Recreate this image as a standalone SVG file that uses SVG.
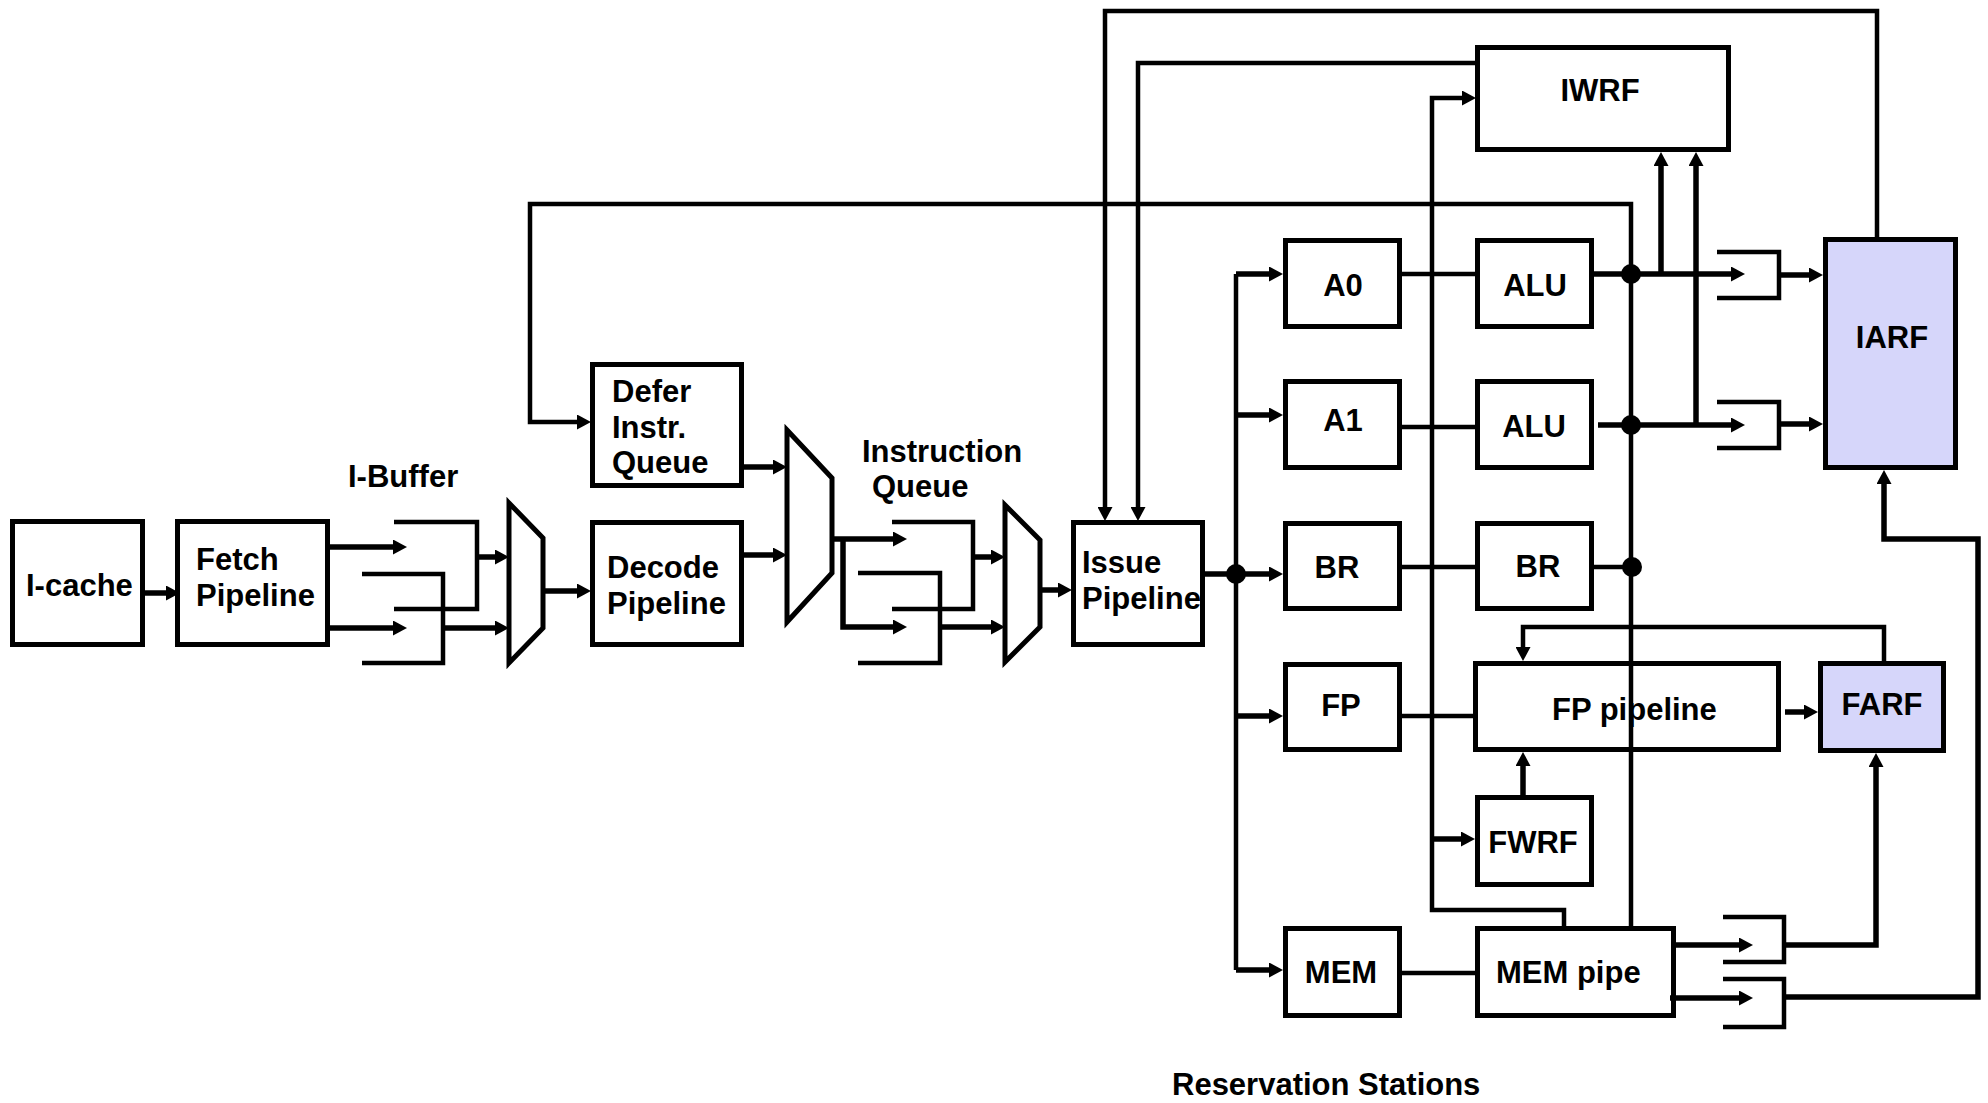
<svg xmlns="http://www.w3.org/2000/svg" width="1988" height="1103" viewBox="0 0 1988 1103">
<style>
.bx{fill:none;stroke:#000;stroke-width:5}
.rf{fill:#D6D6FA;stroke:#000;stroke-width:5}
.ln{fill:none;stroke:#000;stroke-width:4.5;stroke-linejoin:miter}
.ar{fill:none;stroke:#000;stroke-width:5.5;marker-end:url(#ah)}
.br{fill:none;stroke:#000;stroke-width:4.5}
.mx{fill:#fff;stroke:#000;stroke-width:5}
.dot{fill:#000}
text{font-family:"Liberation Sans",Arial,Helvetica,sans-serif;font-weight:bold;font-size:31px;fill:#000}
.c{text-anchor:middle}
</style>
<defs>
<marker id="ah" markerUnits="userSpaceOnUse" viewBox="0 0 14 15" markerWidth="14" markerHeight="15" refX="4" refY="7.5" orient="auto"><path d="M0,0 L14,7.5 L0,15 z" fill="#000"/></marker>
</defs>
<rect width="1988" height="1103" fill="#fff"/>
<g id="connectors">
<path class="ar" d="M145,593 H170"/>
<path class="ar" d="M330,547 H397"/>
<path class="ar" d="M330,628 H397"/>
<polyline class="br" points="394,522 477,522 477,609 394,609"/>
<polyline class="br" points="362,574 443,574 443,663 362,663"/>
<path class="ar" d="M477,557 H499"/>
<path class="ar" d="M443,628 H499"/>
<path class="ar" d="M543,591 H581"/>
<path class="ln" style="marker-end:url(#ah)" d="M1631,926 V204 H530 V422 H581"/>
<path class="ar" d="M744,467 H777"/>
<path class="ar" d="M744,555 H777"/>
<path class="ar" d="M832,539 H897"/>
<path class="ar" d="M843,539 V627 H897"/>
<polyline class="br" points="892,522 973,522 973,609 892,609"/>
<polyline class="br" points="858,573 940,573 940,663 858,663"/>
<path class="ar" d="M973,557 H995"/>
<path class="ar" d="M940,627 H995"/>
<path class="ar" d="M1040,590 H1062"/>
<path class="ln" style="marker-end:url(#ah)" d="M1877,239 V11 H1105 V511"/>
<path class="ln" style="marker-end:url(#ah)" d="M1476,63 H1138 V511"/>
<path class="ar" d="M1205,574 H1273"/>
<path class="ln" d="M1236,274 V970"/>
<path class="ar" d="M1236,274 H1273"/>
<path class="ar" d="M1236,415 H1273"/>
<path class="ar" d="M1236,716 H1273"/>
<path class="ar" d="M1236,970 H1273"/>
<path class="ln" d="M1402,274 H1475"/>
<path class="ln" d="M1402,427 H1475"/>
<path class="ln" d="M1402,567 H1475"/>
<path class="ln" d="M1402,716 H1473"/>
<path class="ln" d="M1402,973 H1475"/>
<path class="ln" d="M1594,567 H1631"/>
<path class="ar" d="M1594,274 H1735"/>
<path class="ar" d="M1598,425 H1735"/>
<path class="ar" d="M1661,274 V162"/>
<path class="ar" d="M1696,425 V162"/>
<polyline class="br" points="1717,252 1779,252 1779,298 1717,298"/>
<polyline class="br" points="1717,402 1779,402 1779,448 1717,448"/>
<path class="ar" d="M1779,275 H1813"/>
<path class="ar" d="M1779,424 H1813"/>
<path class="ln" style="marker-end:url(#ah)" d="M1564,926 V910 H1432 V98 H1466"/>
<path class="ar" d="M1432,839 H1465"/>
<path class="ar" d="M1523,795 V762"/>
<path class="ln" style="marker-end:url(#ah)" d="M1884,661 V627 H1523 V651"/>
<path class="ar" d="M1785,712 H1808"/>
<path class="ar" d="M1676,945 H1743"/>
<path class="ar" d="M1670,998 H1743"/>
<polyline class="br" points="1723,917 1784,917 1784,962 1723,962"/>
<polyline class="br" points="1723,979 1784,979 1784,1027 1723,1027"/>
<path class="ar" d="M1784,945 H1876 V763"/>
<path class="ar" d="M1784,997 H1978 V539 H1884 V480"/>
<circle class="dot" cx="1236" cy="574" r="10"/>
<circle class="dot" cx="1631" cy="274" r="10"/>
<circle class="dot" cx="1631" cy="425" r="10"/>
<circle class="dot" cx="1632" cy="567" r="10"/>
</g>
<g id="icache"><rect class="bx" x="12.5" y="521.5" width="130" height="123"/><text x="26" y="596">I-cache</text></g>
<g id="fetch"><rect class="bx" x="177.5" y="521.5" width="150" height="123"/><text x="196" y="570">Fetch</text><text x="196" y="606">Pipeline</text></g>
<g id="ibuffer"><text x="348" y="487">I-Buffer</text></g>
<g id="mux1"><polygon class="mx" points="509,503 543,538 543,628 509,663"/></g>
<g id="defer"><rect class="bx" x="592.5" y="364.5" width="149" height="121"/><text x="612" y="402">Defer</text><text x="612" y="438">Instr.</text><text x="612" y="473">Queue</text></g>
<g id="decode"><rect class="bx" x="592.5" y="522.5" width="149" height="122"/><text x="607" y="578">Decode</text><text x="607" y="614">Pipeline</text></g>
<g id="mux2"><polygon class="mx" points="787,430 832,478 832,573 787,622"/></g>
<g id="iqueue"><text x="862" y="462">Instruction</text><text x="872" y="497">Queue</text></g>
<g id="mux3"><polygon class="mx" points="1005,505 1040,540 1040,627 1005,662"/></g>
<g id="issue"><rect class="bx" x="1073.5" y="522.5" width="129" height="122"/><text x="1082" y="573">Issue</text><text x="1082" y="609">Pipeline</text></g>
<g id="a0"><rect class="bx" x="1285.5" y="240.5" width="114" height="86"/><text class="c" x="1343" y="296">A0</text></g>
<g id="alu0"><rect class="bx" x="1477.5" y="240.5" width="114" height="86"/><text class="c" x="1535" y="296">ALU</text></g>
<g id="a1"><rect class="bx" x="1285.5" y="381.5" width="114" height="86"/><text class="c" x="1343" y="431">A1</text></g>
<g id="alu1"><rect class="bx" x="1477.5" y="381.5" width="114" height="86"/><text class="c" x="1534" y="437">ALU</text></g>
<g id="br1"><rect class="bx" x="1285.5" y="523.5" width="114" height="85"/><text class="c" x="1337" y="578">BR</text></g>
<g id="br2"><rect class="bx" x="1477.5" y="523.5" width="114" height="85"/><text class="c" x="1538" y="577">BR</text></g>
<g id="fp"><rect class="bx" x="1285.5" y="664.5" width="114" height="85"/><text class="c" x="1341" y="716">FP</text></g>
<g id="fppipe"><rect class="bx" x="1475.5" y="663.5" width="303" height="86"/><text x="1552" y="720">FP pipeline</text></g>
<g id="farf"><rect class="rf" x="1820.5" y="663.5" width="123" height="87"/><text class="c" x="1882" y="715">FARF</text></g>
<g id="fwrf"><rect class="bx" x="1477.5" y="797.5" width="114" height="87"/><text class="c" x="1533" y="853">FWRF</text></g>
<g id="mem"><rect class="bx" x="1285.5" y="928.5" width="114" height="87"/><text class="c" x="1341" y="983">MEM</text></g>
<g id="mempipe"><rect class="bx" x="1477.5" y="928.5" width="196" height="87"/><text x="1496" y="983">MEM pipe</text></g>
<g id="iwrf"><rect class="bx" x="1477.5" y="47.5" width="251" height="102"/><text class="c" x="1600" y="101">IWRF</text></g>
<g id="iarf"><rect class="rf" x="1825.5" y="239.5" width="130" height="228"/><text class="c" x="1892" y="348">IARF</text></g>
<g id="rs"><text x="1172" y="1095">Reservation Stations</text></g>
</svg>
